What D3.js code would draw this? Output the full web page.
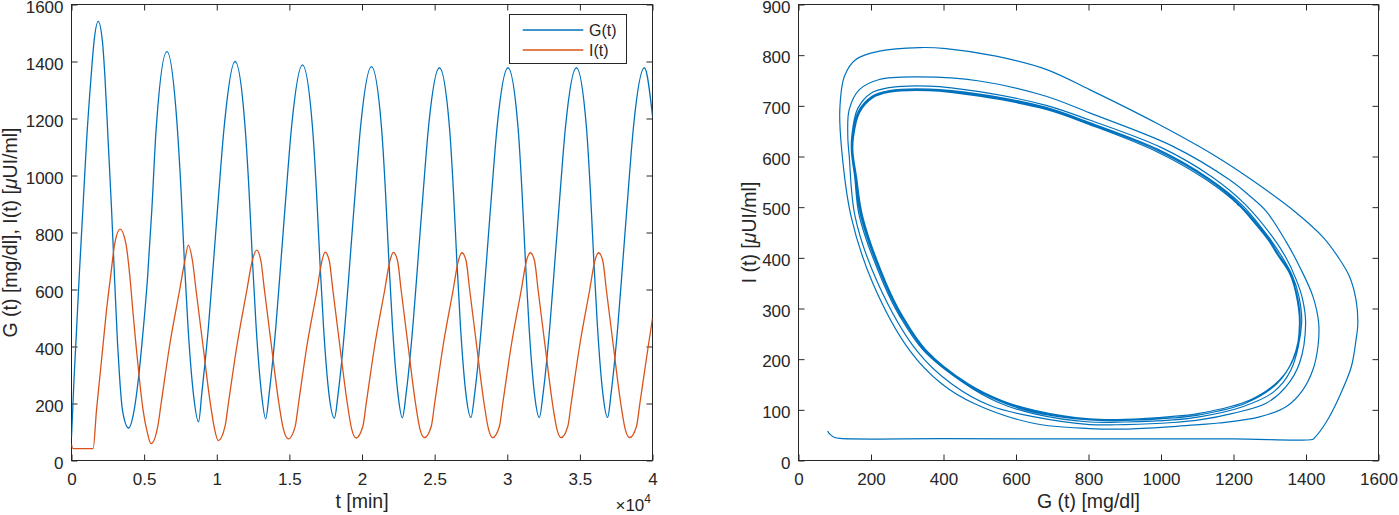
<!DOCTYPE html>
<html><head><meta charset="utf-8">
<script src="https://cdn.jsdelivr.net/npm/d3@7"></script>
<style>
html,body{margin:0;padding:0;background:#fff;}
svg{display:block;font-family:"Liberation Sans",Arial,Helvetica,sans-serif;}
</style></head><body>
<svg id="chart" width="1399" height="515"></svg>
<script>
// ---------- tick values / labels ----------
const timeTicks = [0,5000,10000,15000,20000,25000,30000,35000,40000];
const timeTickLabels = ["0","0.5","1","1.5","2","2.5","3","3.5","4"];
const leftYTicks = [0,200,400,600,800,1000,1200,1400,1600];
const phaseXTicks = [0,200,400,600,800,1000,1200,1400,1600];
const phaseYTicks = [0,100,200,300,400,500,600,700,800,900];
const seriesNames = ["G(t)","I(t)"];

// ---------- time series [t (min), value] ----------
const glucose = [
[0,82],[180,293],[300,410],[530,645],[780,879],[1030,1114],[1350,1348],[1540,1465],[1840,1541],
[2140,1465],[2300,1348],[2530,1114],[2760,879],[2960,645],[3170,410],[3310,293],[3510,176],[3930,114],
[4310,176],[4620,293],[4850,410],[5240,645],[5530,879],[5810,1149],[6570,1435],
[7260,1185],[7540,950],[7770,700],[8020,470],[8380,240],[8750,136],
[8980,240],[9430,470],[9780,700],[10140,940],[10510,1170],[11260,1400],
[11950,1170],[12230,940],[12460,700],[12710,470],[13070,240],[13370,146],
[13620,240],[14070,470],[14420,700],[14780,940],[15150,1170],[15900,1388],
[16590,1170],[16870,940],[17100,700],[17350,470],[17710,240],[18100,149],
[18370,240],[18820,470],[19170,700],[19530,940],[19900,1170],[20650,1382],
[21340,1170],[21620,940],[21850,700],[22100,470],[22460,240],[22780,150],
[23050,240],[23500,470],[23850,700],[24210,940],[24580,1170],[25330,1378],
[26020,1170],[26300,940],[26530,700],[26780,470],[27140,240],[27500,151],
[27770,240],[28220,470],[28570,700],[28930,940],[29300,1170],[30050,1378],
[30740,1170],[31020,940],[31250,700],[31500,470],[31860,240],[32210,151],
[32480,240],[32930,470],[33280,700],[33640,940],[34010,1170],[34760,1378],
[35450,1170],[35730,940],[35960,700],[36210,470],[36570,240],[36910,151],
[37160,240],[37610,470],[37960,700],[38320,940],[38690,1170],[39440,1378],
[40000,1210]
];
const insulin = [
[0,58],[30,48],[80,43],[150,42],[1490,42],
[1720,176],[1950,293],[2180,410],[2410,527],[2690,645],[2980,762],[3350,812],
[3740,762],[4020,645],[4220,527],[4430,410],[4660,293],[4930,176],[5240,94],[5470,59],
[5940,120],[6170,200],[6745,400],[7450,600],[7800,700],[8040,756],
[8330,700],[8570,600],[9060,400],[9560,200],[9850,110],[10100,70],
[10570,120],[10800,200],[11380,400],[12080,600],[12440,700],[12750,738],
[13040,700],[13280,600],[13770,400],[14280,200],[14590,110],[14930,76],
[15400,120],[15630,200],[16200,400],[16910,600],[17240,700],[17460,731],
[17750,700],[17990,600],[18480,400],[18990,200],[19290,110],[19590,79],
[20060,120],[20290,200],[20865,400],[21570,600],[21920,700],[22160,730],
[22450,700],[22690,600],[23180,400],[23685,200],[23990,110],[24300,80],
[24770,120],[25000,200],[25575,400],[26280,600],[26630,700],[26880,729],
[27170,700],[27410,600],[27900,400],[28405,200],[28710,110],[28990,80],
[29460,120],[29690,200],[30265,400],[30970,600],[31320,700],[31590,729],
[31880,700],[32120,600],[32610,400],[33115,200],[33420,110],[33700,80],
[34170,120],[34400,200],[34975,400],[35680,600],[36030,700],[36290,729],
[36580,700],[36820,600],[37310,400],[37815,200],[38120,110],[38430,80],
[38900,120],[39130,200],[39705,400],[40000,498]
];

// ---------- phase portrait [G, I], read along the trajectory ----------
const phaseFirst = [
[80,58],[88,51],[98,46],[115,43.5],[400,43],[800,42.5],[1200,42.5],[1419,42],[1424,45],
[1456,76],[1492,126],[1525,185],[1538,238],[1543,271],[1538,317],[1520,363],[1490,400],[1448,440],
[1373,489],[1262,548],[1152,600],[987,666],[803,732],[683,772],[545,798],[407,813],[334,815],
[223,808],[159,792],[127,759],[114,693],[119,614],[145,482],[205,350],[306,218],[394,152],[486,112],[651,73]
];
const phaseLoop2 = [
[803,63],[900,62],[1033,67],[1106,71],[1161,74],[1272,86],[1345,106],[1391,139],[1419,179],[1433,225],
[1435,271],[1419,324],[1382,383],[1345,432],[1290,492],[1245,522],[1189,554],[1033,620],[803,686],[683,719],
[499,749],[334,757],[223,752],[168,732],[140,693],[136,640],[140,600],[156,482],[219,350],[325,218],
[421,152],[530,108],[651,86]
];
const phaseLoop3 = [
[803,71],[900,71],[1033,75],[1106,80],[1198,93],[1290,113],[1345,146],[1382,192],[1399,271],[1390,320],
[1373,357],[1345,400],[1313,436],[1233,505],[1140,560],[1000,618],[803,672],[683,701],[499,728],
[360,739],[251,736],[200,725],[163,694],[147,640],[146,610],[155,560],[168,482],[234,350],[280,284],
[344,218],[458,152],[550,115],[651,92]
];
const phaseLoop4 = [
[803,76],[900,76],[1033,80],[1106,86],[1221,105],[1310,135],[1358,178],[1388,271],[1380,325],
[1362,365],[1332,404],[1302,436],[1224,504],[1131,557],[992,614],[803,667],[683,697],[499,723],
[360,733],[251,730],[203,719],[165,689],[149,640],[148,610],[157,560],[172,482],[238,350],[284,284],
[348,218],[462,152],[555,117],[651,95]
];
const phaseLoop5 = [
[803,80],[900,79],[1033,84],[1106,90],[1233,113],[1320,152],[1364,200],[1384,271],[1375,328],
[1357,368],[1326,405],[1298,436],[1220,503],[1128,556],[990,612],[803,665],[683,695],[499,721],
[360,731],[251,728],[204,717],[166,687],[150,640],[149,610],[159,560],[175,482],[240,350],[286,284],
[350,218],[465,152],[557,118],[651,97]
];
const phaseLimit = [
[803,82],[900,81],[1033,87],[1106,93],[1244,119],[1327,159],[1368,205],[1382,271],[1372,330],
[1354,370],[1322,405],[1295,436],[1217,502],[1125,554],[987,610],[803,663],[683,693],[499,719],
[360,730],[251,727],[205,716],[168,686],[152,640],[150,610],[160,560],[177,482],[242,350],[288,284],
[352,218],[467,152],[559,119],[651,99]
];
const phaseEnd = [[1210,506]];

// ---------- drawing ----------
const ink = "#262626";
const blue = "#0072BD", orange = "#D95319";
const svg = d3.select("#chart");

const xL = d3.scaleLinear().domain([0,40000]).range([71.5,652.5]);
const yL = d3.scaleLinear().domain([0,1600]).range([460.5,4.5]);
const xR = d3.scaleLinear().domain([0,1600]).range([798.5,1378.5]);
const yR = d3.scaleLinear().domain([0,900]).range([460.5,4.5]);

function frame(x, y, xTicks, xFmt, yTicks, id) {
  const [x0,x1] = x.range(), [y0,y1] = y.range();
  const g = svg.append("g");
  const style = sel => {
    sel.select(".domain").remove();
    sel.selectAll("line").attr("stroke", ink).attr("stroke-width", 1);
    sel.selectAll("text").attr("fill", ink).attr("font-size", 17)
       .attr("font-family", '"Liberation Sans",Arial,Helvetica,sans-serif');
  };
  g.append("g").attr("transform",`translate(0,${y0})`)
    .call(d3.axisBottom(x).tickValues(xTicks).tickFormat(xFmt).tickSizeInner(-6).tickSizeOuter(0).tickPadding(12.5)).call(style);
  g.append("g").attr("transform",`translate(0,${y1})`)
    .call(d3.axisTop(x).tickValues(xTicks).tickFormat("").tickSizeInner(-6).tickSizeOuter(0)).call(style);
  const ly = g.append("g").attr("transform",`translate(${x0},0)`)
    .call(d3.axisLeft(y).tickValues(yTicks).tickFormat(d3.format("d")).tickSizeInner(-6).tickSizeOuter(0).tickPadding(8)).call(style);
  ly.selectAll("text").attr("dy","0.45em");
  g.append("g").attr("transform",`translate(${x1},0)`)
    .call(d3.axisRight(y).tickValues(yTicks).tickFormat("").tickSizeInner(-6).tickSizeOuter(0)).call(style);
  g.append("rect").attr("x",x0).attr("y",y1).attr("width",x1-x0).attr("height",y0-y1)
    .attr("fill","none").attr("stroke",ink).attr("stroke-width",1);
  svg.append("clipPath").attr("id",id).append("rect")
    .attr("x",x0).attr("y",y1).attr("width",x1-x0).attr("height",y0-y1);
}

frame(xL, yL, timeTicks, (d,i)=>timeTickLabels[i], leftYTicks, "clipL");
frame(xR, yR, phaseXTicks, d3.format("d"), phaseYTicks, "clipR");

// left: time series
const lineL = d3.line().x(d=>xL(d[0])).y(d=>yL(d[1])).curve(d3.curveMonotoneX);
const gl = svg.append("g").attr("clip-path","url(#clipL)");
gl.append("path").attr("d", lineL(glucose)).attr("fill","none").attr("stroke",blue).attr("stroke-width",1.3);
gl.append("path").attr("d", lineL(insulin)).attr("fill","none").attr("stroke",orange).attr("stroke-width",1.3);

// right: phase portrait
const limitToEnd = phaseLimit.slice(0, 13);
const trajectory = [].concat(phaseFirst, phaseLoop2, phaseLoop3, phaseLoop4, phaseLoop5,
  phaseLimit, phaseLimit, phaseLimit, limitToEnd, phaseEnd);
const lineR = d3.line().x(d=>xR(d[0])).y(d=>yR(d[1])).curve(d3.curveCatmullRom.alpha(0.5));
svg.append("g").attr("clip-path","url(#clipR)")
  .append("path").attr("d", lineR(trajectory)).attr("fill","none").attr("stroke",blue).attr("stroke-width",1.2);

// axis labels
const lab = (x, y, rot) => svg.append("text").attr("x",x).attr("y",y)
  .attr("text-anchor","middle").attr("font-size",19.5).attr("fill",ink)
  .attr("transform", rot ? `rotate(-90,${x},${y})` : null);

lab((xL.range()[0]+xL.range()[1])/2, 507.5).text("t [min]");
lab((xR.range()[0]+xR.range()[1])/2, 507.5).text("G (t) [mg/dl]");
const yl1 = lab(16.5, 232.5, true);
yl1.append("tspan").text("G (t) [mg/dl], I(t) [");
yl1.append("tspan").attr("font-style","italic").text("\u03BC");
yl1.append("tspan").text("UI/ml]");
const yl2 = lab(756, 232.5, true);
yl2.append("tspan").text("I (t) [");
yl2.append("tspan").attr("font-style","italic").text("\u03BC");
yl2.append("tspan").text("UI/ml]");

// x10^4 exponent
const ex = svg.append("text").attr("x",651).attr("y",510.5).attr("text-anchor","end")
  .attr("font-size",17).attr("fill",ink);
ex.append("tspan").text("\u00D710");
ex.append("tspan").attr("font-size",12).attr("dy",-8).text("4");

// legend
const lg = svg.append("g");
lg.append("rect").attr("x",509.5).attr("y",14.5).attr("width",117).attr("height",49)
  .attr("fill","#fff").attr("stroke",ink).attr("stroke-width",1);
[blue, orange].forEach((c,i)=>{
  const yy = 30 + i*20;
  lg.append("line").attr("x1",522.7).attr("x2",583.3).attr("y1",yy).attr("y2",yy)
    .attr("stroke",c).attr("stroke-width",1.3);
  lg.append("text").attr("x",589).attr("y",yy+5.6).attr("font-size",16).attr("fill",ink)
    .text(seriesNames[i]);
});
</script>
</body></html>
